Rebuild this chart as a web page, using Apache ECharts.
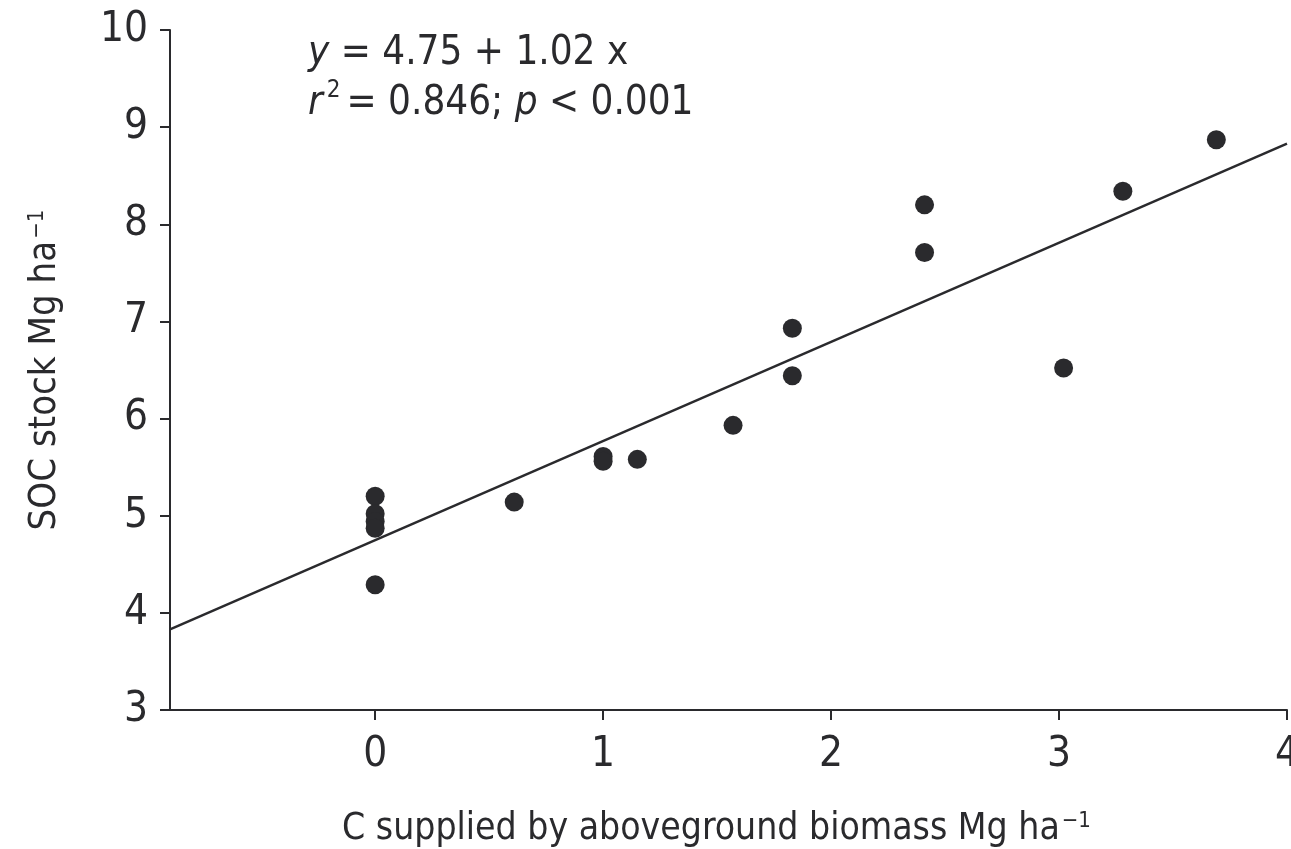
<!DOCTYPE html>
<html>
<head>
  <meta charset="utf-8">
  <title>SOC stock vs C supplied</title>
  <script src="https://cdn.jsdelivr.net/npm/echarts@6/dist/echarts.min.js"></script>
  <style>
    html, body { margin: 0; padding: 0; background: #fff; }
    #main { width: 1291px; height: 849px; }
  </style>
</head>
<body>
<div id="main"></div>
<script>
// measured points (C supplied, SOC stock)
var cSupplied = [0, 0, 0, 0, 0, 0.61, 1.0, 1.0, 1.15, 1.57, 1.83, 1.83, 2.41, 2.41, 3.02, 3.28, 3.69];
var socStock  = [5.2, 5.02, 4.94, 4.87, 4.29, 5.14, 5.61, 5.56, 5.58, 5.93, 6.93, 6.44, 8.2, 7.71, 6.52, 8.34, 8.87];

// fitted line ends: y = 4.75 + 1.02 x
var fitX = [-0.9, 4];
var fitY = [3.83, 8.83];

var xTicks = [0, 1, 2, 3, 4];

var ink = '#2a2a2d';
var font = '"Liberation Sans Narrow", "DejaVu Sans Condensed", "Roboto", sans-serif';

var points = cSupplied.map(function (x, i) { return [x, socStock[i]]; });
var fitLine = fitX.map(function (x, i) { return [x, fitY[i]]; });

var chart = echarts.init(document.getElementById('main'));
chart.setOption({
  animation: false,
  textStyle: { fontFamily: font, color: ink },
  grid: { left: 170, top: 30, right: 4, bottom: 139, outerBoundsMode: 'none', containLabel: false },
  title: {
    left: 303, top: 24,
    text: '{i|y} = 4.75 + 1.02 x\n{i|r}{sup|2}= 0.846; {i|p} < 0.001',
    textStyle: {
      fontFamily: font, fontSize: 40, fontWeight: 'normal', color: ink, lineHeight: 50,
      rich: {
        i: { fontFamily: font, fontSize: 40, fontStyle: 'italic', color: ink },
        sup: { fontFamily: font, fontSize: 24, color: ink, verticalAlign: 'top', padding: [0, 6, 18, 4] }
      }
    }
  },
  xAxis: {
    type: 'value', min: -0.9, max: 4,
    splitLine: { show: false },
    axisLine: { onZero: false, lineStyle: { color: ink, width: 2 } },
    axisTick: { show: true, customValues: xTicks, length: 10, lineStyle: { color: ink, width: 2 } },
    axisLabel: { customValues: xTicks, fontSize: 42, color: ink, margin: 24, fontFamily: font },
    name: 'C supplied by aboveground biomass Mg ha{sup|−1}',
    nameLocation: 'middle', nameGap: 100,
    nameTextStyle: {
      fontSize: 37, color: ink, fontFamily: font, padding: [0, 24, 0, 0],
      rich: { sup: { fontSize: 22, color: ink, fontFamily: font, verticalAlign: 'top', padding: [0, 0, 16, 2] } }
    }
  },
  yAxis: {
    type: 'value', min: 3, max: 10, interval: 1,
    splitLine: { show: false },
    axisLine: { show: true, onZero: false, lineStyle: { color: ink, width: 2 } },
    axisTick: { show: true, length: 10, lineStyle: { color: ink, width: 2 } },
    axisLabel: { fontSize: 42, color: ink, margin: 22, fontFamily: font },
    name: 'SOC stock Mg ha{sup|−1}',
    nameLocation: 'middle', nameGap: 106, nameRotate: 90,
    nameTextStyle: {
      fontSize: 38, color: ink, fontFamily: font,
      rich: { sup: { fontSize: 22, color: ink, fontFamily: font, verticalAlign: 'top', padding: [0, 0, 16, 2] } }
    }
  },
  series: [
    {
      type: 'line', data: fitLine, symbol: 'none', silent: true,
      lineStyle: { color: ink, width: 2.5 }, z: 2
    },
    {
      type: 'scatter', data: points, symbolSize: 19,
      itemStyle: { color: ink, opacity: 1 }, z: 3
    }
  ]
});
</script>
</body>
</html>
